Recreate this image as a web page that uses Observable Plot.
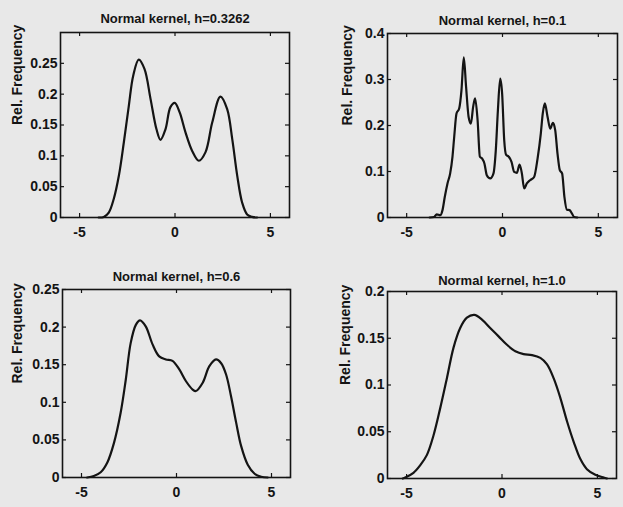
<!DOCTYPE html>
<html>
<head>
<meta charset="utf-8">
<script src="https://cdn.jsdelivr.net/npm/d3@7"></script>
<script src="https://cdn.jsdelivr.net/npm/@observablehq/plot@0.6"></script>
<style>
  html, body { margin: 0; padding: 0; background: #e8e8e8; }
  #wrap { position: relative; width: 623px; height: 507px; overflow: hidden; background: #e8e8e8; }
  #wrap svg { position: absolute; }
</style>
</head>
<body>
<div id="wrap"></div>
<script>
// ---- Data ----
const titles = ["Normal kernel, h=0.3262", "Normal kernel, h=0.1", "Normal kernel, h=0.6", "Normal kernel, h=1.0"];
const yLabel = "Rel. Frequency";
const xTicks = [-5, 0, 5];

const x_h03262 = [-4.0,-3.73,-3.47,-3.21,-2.94,-2.68,-2.42,-2.19,-1.90,-1.60,-1.28,-0.97,-0.76,-0.50,-0.24,-0.01,0.25,0.55,0.90,1.25,1.60,1.95,2.38,2.73,3.00,3.26,3.52,3.78,4.04,4.3];
const f_h03262 = [0,0.001,0.008,0.030,0.068,0.122,0.181,0.230,0.256,0.241,0.192,0.143,0.126,0.143,0.179,0.186,0.170,0.138,0.108,0.092,0.106,0.154,0.196,0.176,0.127,0.068,0.024,0.005,0.001,0];

const x_h01 = [-3.8,-3.57,-3.43,-3.25,-3.13,-3.01,-2.87,-2.73,-2.61,-2.52,-2.40,-2.26,-2.14,-2.02,-1.90,-1.77,-1.65,-1.53,-1.43,-1.30,-1.18,-1.06,-0.94,-0.82,-0.64,-0.47,-0.35,-0.24,-0.12,-0.02,0.09,0.19,0.33,0.47,0.61,0.75,0.89,1.01,1.13,1.27,1.44,1.65,1.83,2.00,2.10,2.21,2.35,2.49,2.63,2.75,2.87,2.99,3.11,3.23,3.36,3.50,3.62,3.74,3.9];
const f_h01 = [0,0.001,0.007,0.005,0.016,0.045,0.074,0.096,0.132,0.175,0.226,0.237,0.277,0.348,0.284,0.219,0.204,0.241,0.259,0.212,0.132,0.128,0.117,0.092,0.085,0.096,0.146,0.233,0.302,0.270,0.168,0.136,0.132,0.121,0.099,0.097,0.115,0.096,0.063,0.074,0.081,0.088,0.128,0.183,0.226,0.248,0.219,0.193,0.206,0.190,0.139,0.103,0.096,0.045,0.017,0.016,0.009,0.001,0];

const x_h06 = [-4.7,-4.35,-3.99,-3.64,-3.29,-2.94,-2.67,-2.41,-2.14,-1.92,-1.62,-1.26,-0.91,-0.56,-0.21,0.14,0.50,0.85,1.02,1.38,1.73,2.08,2.35,2.61,2.87,3.14,3.40,3.75,4.11,4.46,4.8];
const f_h06 = [0,0.002,0.007,0.020,0.046,0.086,0.130,0.179,0.203,0.209,0.201,0.177,0.161,0.157,0.155,0.144,0.128,0.117,0.115,0.126,0.148,0.157,0.152,0.137,0.108,0.073,0.042,0.017,0.005,0.001,0];

const x_h10 = [-5.2,-5.07,-4.64,-4.29,-3.94,-3.59,-3.24,-2.89,-2.54,-2.19,-1.84,-1.45,-1.05,-0.62,-0.18,0.26,0.70,1.13,1.57,2.01,2.36,2.71,3.06,3.41,3.76,4.10,4.45,4.89,5.33,5.5];
const f_h10 = [0,0.001,0.006,0.014,0.025,0.046,0.075,0.107,0.140,0.161,0.172,0.175,0.170,0.161,0.152,0.143,0.136,0.133,0.132,0.129,0.122,0.107,0.086,0.061,0.039,0.021,0.010,0.004,0.001,0];

const yTicks1 = [0, 0.05, 0.1, 0.15, 0.2, 0.25];
const yTicks2 = [0, 0.1, 0.2, 0.3, 0.4];
const yTicks3 = [0, 0.05, 0.1, 0.15, 0.2, 0.25];
const yTicks4 = [0, 0.05, 0.1, 0.15, 0.2];

// ---- Panel layout ----
const panels = [
  {xs: x_h03262, ys: f_h03262, title: titles[0], yDomain: [0, 0.3], yTicks: yTicks1, curve: "catmull-rom",
   left: 0, top: 0, width: 311, height: 250, mL: 60, mR: 22, mT: 32, mB: 33, titleDy: -19, labelDx: -43},
  {xs: x_h01, ys: f_h01, title: titles[1], yDomain: [0, 0.4], yTicks: yTicks2, curve: "monotone-x",
   left: 311, top: 0, width: 312, height: 250, mL: 76, mR: 6, mT: 33, mB: 33, titleDy: -18, labelDx: -40},
  {xs: x_h06, ys: f_h06, title: titles[2], yDomain: [0, 0.25], yTicks: yTicks3, curve: "catmull-rom",
   left: 0, top: 250, width: 311, height: 257, mL: 62, mR: 21, mT: 39, mB: 30, titleDy: -18, labelDx: -45},
  {xs: x_h10, ys: f_h10, title: titles[3], yDomain: [0, 0.2], yTicks: yTicks4, curve: "catmull-rom",
   left: 311, top: 250, width: 312, height: 257, mL: 76, mR: 7, mT: 41, mB: 29, titleDy: -16, labelDx: -42}
];

const ink = "#141414";
const wrap = document.getElementById("wrap");

for (const p of panels) {
  const data = p.xs.map((x, i) => ({x, y: p.ys[i]}));
  const plotW = p.width - p.mL - p.mR;
  const plotH = p.height - p.mT - p.mB;
  const tl = 4;
  const chart = Plot.plot({
    width: p.width,
    height: p.height,
    marginLeft: p.mL, marginRight: p.mR, marginTop: p.mT, marginBottom: p.mB,
    style: {background: "transparent", fontFamily: "'Liberation Sans', Arial, Helvetica, sans-serif", fontSize: "14px", fontWeight: "bold", color: ink},
    x: {domain: [-6, 6]},
    y: {domain: p.yDomain},
    marks: [
      // inward tick marks, MATLAB-style box
      Plot.tickX(xTicks, {x: d => d, insetTop: plotH - tl, stroke: ink, strokeWidth: 1.2}),
      Plot.tickX(xTicks, {x: d => d, insetBottom: plotH - tl, stroke: ink, strokeWidth: 1.2}),
      Plot.tickY(p.yTicks, {y: d => d, insetRight: plotW - tl, stroke: ink, strokeWidth: 1.2}),
      Plot.tickY(p.yTicks, {y: d => d, insetLeft: plotW - tl, stroke: ink, strokeWidth: 1.2}),
      Plot.axisX({ticks: xTicks, tickSize: 0, tickPadding: 10, tickFormat: d => String(d), label: null, fill: ink}),
      Plot.axisY({ticks: p.yTicks, tickSize: 0, tickPadding: 3, tickFormat: d => String(d), label: null, fill: ink}),
      Plot.line(data, {x: "x", y: "y", curve: p.curve, stroke: ink, strokeWidth: 2.2, strokeLinejoin: "round"}),
      Plot.frame({stroke: ink, strokeWidth: 1.6}),
      Plot.text([p.title], {text: d => d, frameAnchor: "top", dy: p.titleDy, fontSize: 13, fontWeight: "bold", fill: ink}),
      Plot.text([yLabel], {text: d => d, frameAnchor: "left", dx: p.labelDx, rotate: -90, fontSize: 14, fontWeight: "bold", fill: ink})
    ]
  });
  chart.style.left = p.left + "px";
  chart.style.top = p.top + "px";
  wrap.appendChild(chart);
}
</script>
</body>
</html>
